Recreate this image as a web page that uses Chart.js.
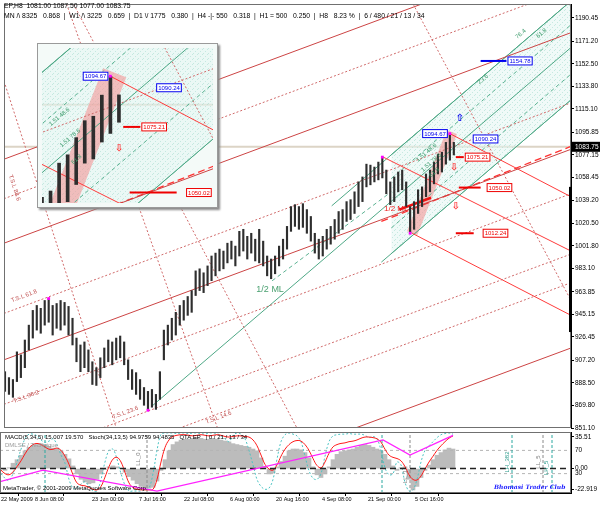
<!DOCTYPE html>
<html>
<head>
<meta charset="utf-8">
<title>EP,H8</title>
<script src="https://cdn.jsdelivr.net/npm/chart.js@4.4.1/dist/chart.umd.min.js"></script>
<style>
  html, body { margin: 0; padding: 0; background: #fff; }
  body { width: 600px; height: 510px; position: relative; overflow: hidden; font-family: "Liberation Sans", Arial, sans-serif; }
  .box { position: absolute; left: 0; width: 600px; }
  #priceBox { top: 0; height: 432px; }
  #oscBox { top: 432px; height: 78px; }
  #zoomBox { position: absolute; left: 37px; top: 43px; width: 179px; height: 163px; border: 1px solid #9a9a9a; box-shadow: 2px 2px 2px #8a8a8a; background: #f4faf8; }
  .txt { position: absolute; white-space: pre; font-size: 6.8px; color: #000; line-height: 1; }
</style>
</head>
<body>
<div class="box" id="priceBox"><canvas id="priceChart"></canvas></div>
<div class="box" id="oscBox"><canvas id="oscChart"></canvas></div>
<div id="zoomBox"><canvas id="insetChart"></canvas></div>

<div class="txt" style="left:4px;top:3px">EP,H8  1081.00 1087.50 1077.00 1083.75</div>
<div class="txt" style="left:4px;top:13px">MN /\ 8325   0.868  |  W1 /\ 3225   0.659  |  D1 \/ 1775   0.380  |  H4 -|- 550   0.318  |  H1 = 500   0.250  |  H8   8.23 %  |  6 / 480 / 21 / 13 / 34</div>
<div class="txt" style="left:5px;top:434px;font-size:6px">MACD(5,34,5) 15.007 19.570   Stoch(34,13,5) 94.9759 94.4835   QTA EP   | 0 / 21 / 13 / 34</div>
<div class="txt" style="left:5px;top:442px;font-size:6px;color:#9a9a9a">DMLSE / Technique</div>
<div class="txt" style="left:3px;top:485px;font-size:6px">MetaTrader, © 2001-2009 MetaQuotes Software Corp.</div>
<div class="txt" style="left:494px;top:484px;font-size:6px;color:#1a1aff;font-style:italic;font-weight:bold;font-family:'DejaVu Serif',serif">Bhomasi Trader Club</div>

<script>
// EP H8 bars, one entry per plotted bar
const highs = [
  897.7, 892.8, 891.2, 914.1, 911.6, 923.9, 936.2, 948.4, 952.5, 950.1,
  956.6, 958.2, 952.5, 954.1, 956.6, 955.0, 951.7, 941.9, 925.5, 919.8,
  922.3, 915.7, 905.9, 901.0, 909.2, 917.3, 923.9, 922.3, 925.5, 927.2,
  922.3, 907.5, 899.4, 896.9, 891.2, 884.6, 881.4, 883.0, 878.9, 897.7,
  932.1, 936.2, 941.9, 946.8, 952.5, 956.6, 959.9, 964.8, 981.1, 982.8,
  979.5, 985.2, 993.4, 995.8, 999.1, 997.5, 1004.0, 1005.7, 1001.6, 1013.8,
  1015.5, 1009.7, 1012.2, 1007.3, 1015.5, 1005.7, 993.4, 990.9, 993.4, 1001.6,
  1007.3, 1017.9, 1034.3, 1035.9, 1034.3, 1036.7, 1031.8, 1026.1, 1012.2, 1007.3,
  1009.7, 1015.5, 1017.9, 1023.6, 1030.2, 1031.8, 1038.4, 1040.0, 1046.5, 1054.7,
  1058.8, 1069.4, 1068.6, 1067.0, 1071.1, 1075.21, 1064.5, 1054.7, 1058.8, 1062.9,
  1064.5, 1054.7, 1034.3, 1038.4, 1048.2, 1050.6, 1061.3, 1064.5, 1071.1, 1077.6,
  1079.3, 1087.4, 1094.67, 1087.5
];
const lows = [
  881.4, 878.9, 876.5, 889.5, 892.8, 901.0, 915.7, 925.5, 932.1, 929.5,
  936.2, 938.6, 928.0, 933.6, 932.1, 936.2, 928.0, 919.8, 905.9, 897.7,
  901.0, 897.7, 887.1, 886.3, 892.8, 901.0, 905.9, 903.4, 907.5, 909.2,
  903.4, 891.2, 883.0, 878.9, 874.8, 869.9, 865.8, 868.3, 866.5, 874.8,
  907.5, 919.8, 923.9, 928.0, 936.2, 940.3, 944.3, 946.8, 960.7, 964.8,
  963.1, 968.9, 973.0, 977.0, 981.1, 982.8, 987.7, 990.9, 985.2, 993.4,
  997.5, 990.9, 995.8, 989.3, 987.7, 985.2, 977.0, 974.6, 978.7, 985.2,
  990.9, 999.1, 1013.8, 1017.9, 1015.5, 1017.1, 1012.2, 1005.7, 995.8, 990.9,
  993.4, 999.1, 1003.2, 1007.3, 1012.2, 1015.5, 1022.0, 1023.6, 1028.6, 1034.3,
  1038.4, 1050.6, 1052.3, 1054.7, 1056.4, 1058.0, 1044.9, 1035.9, 1038.4, 1046.5,
  1048.2, 1034.3, 1012.24, 1015.5, 1028.6, 1034.3, 1042.5, 1046.5, 1053.1, 1061.3,
  1062.9, 1069.4, 1072.7, 1077.0
];
const lastClose = 1083.75;

// oscillator window
const macd = [
  0, -2, 1, 6, 10, 15, 20, 24, 26, 27,
  28, 27, 25, 23, 22, 20, 16, 11, 3, -6,
  -12, -15, -17, -16, -12, -6, -1, 2, 3, 2,
  0, -4, -9, -13, -17, -20, -22, -22, -21, -14,
  -2, 10, 20, 27, 30, 32, 33, 33, 34, 35,
  34, 33, 33, 34, 33, 32, 31, 30, 28, 27,
  26, 25, 24, 22, 20, 12, 2, -6, -5, 2,
  8, 14, 20, 22, 22, 21, 18, 12, 2, -7,
  -10, -6, 2, 10, 16, 19, 20, 21, 22, 24,
  26, 27, 26, 24, 22, 20, 16, 10, 3, -2,
  1, 2, -12, -24, -20, -10, -2, 4, 10, 15,
  18, 21, 23, 22
];
const stochMain = [
  36, 30, 28, 33, 42, 52, 64, 74, 80, 82,
  80, 76, 72, 72, 74, 70, 60, 46, 28, 14,
  10, 9, 6, 3, 2, 8, 24, 42, 55, 58,
  50, 32, 14, 6, 3, 2, 2, 2, 3, 20,
  50, 75, 88, 94, 96, 97, 97, 96, 95, 96,
  97, 96, 95, 96, 97, 96, 94, 93, 94, 95,
  95, 94, 93, 88, 78, 62, 46, 38, 36, 45,
  60, 72, 80, 85, 87, 86, 80, 70, 56, 44,
  40, 50, 65, 76, 80, 82, 83, 85, 86, 88,
  91, 93, 93, 92, 90, 84, 72, 62, 58, 56,
  52, 42, 28, 20, 19, 26, 38, 50, 60, 70,
  78, 85, 91, 95
];
const stochSignal = [
  30, 22, 18, 30, 50, 72, 90, 98, 98, 95,
  88, 84, 86, 90, 80, 62, 48, 20, 5, 5,
  12, 16, 8, 0, 0, 20, 50, 70, 72, 55,
  30, 10, 0, 0, 0, 0, 2, 5, 30, 70,
  98, 100, 100, 100, 99, 100, 100, 99, 100, 100,
  99, 98, 100, 100, 99, 95, 90, 85, 96, 100,
  98, 90, 70, 45, 20, 8, 3, 5, 20, 55,
  85, 97, 100, 98, 95, 85, 60, 35, 22, 20,
  30, 60, 85, 95, 97, 98, 98, 99, 98, 98,
  98, 96, 92, 94, 90, 70, 40, 28, 30, 50,
  45, 15, 0, 2, 20, 50, 70, 78, 85, 92,
  97, 99, 100, 98
];
const oscTrendX = [-0.25, 10.5, 39, 95.5, 102.25, 113];
const oscTrendY = [16, 36, 0, 88, 62, 96];
const cyanEvents = [11, 95.25, 127.75, 137.75];
const grayEvents = [36.5, 102.25, 135.5];

// axes
const priceTicks = [1190.45, 1171.20, 1152.50, 1133.80, 1115.10, 1095.85, 1077.15, 1058.45, 1039.20,
  1020.50, 1001.80, 983.10, 963.85, 945.15, 926.45, 907.20, 888.50, 869.80, 851.10];
const dateTicks = [0, 8.5, 22.75, 34.5, 45.75, 57.25, 68.75, 80.25, 91.75, 103.5];
const dateLabels = ['22 May 2009', '8 Jun 08:00', '23 Jun 00:00', '7 Jul 16:00', '22 Jul 08:00',
  '6 Aug 00:00', '20 Aug 16:00', '4 Sep 08:00', '21 Sep 00:00', '5 Oct 16:00'];
const macdTicks = [35.51, 0, -22.919];
const macdTickText = ['35.51', '0.00', '-22.919'];
const stochLevels = [70, 30];

// swing points and levels
const swingBars = [11, 36, 95, 102, 112];
const swingSide = ['H', 'L', 'H', 'L', 'H'];
const levelValues = [1094.67, 1090.24, 1075.21, 1050.02, 1012.24, 1154.78];
const levelText = ['1094.67', '1090.24', '1075.21', '1050.02', '1012.24', '1154.78'];

// drawn objects, [bar, price] end points
const redSolid = [
  [[-0.25, 907.5], [142.5, 1081.7]],
  [[-0.25, 1073.5], [104.75, 1201.7]],
  [[87.25, 849.9], [142.5, 917.3]],
  [[-0.25, 1004.0], [142.5, 1178.2]]
];
const redDotted = [
  [[-0.25, 1040.8], [131.75, 1201.9]],
  [[-0.25, 945.9], [142.5, 1120.1]],
  [[-0.25, 870.7], [142.5, 1044.9]],
  [[24.75, 851.4], [142.5, 995.0]],
  [[44.75, 852.0], [142.5, 971.3]],
  [[15.5, 1201.9], [53.5, 851.1]],
  [[17.25, 1201.9], [73.5, 851.1]],
  [[-0.25, 1138.1], [28, 851.1]],
  [[102.75, 1201.9], [142.5, 956.6]]
];
const redFalling = [
  [[95.25, 1075.21], [142.5, 997.5]],
  [[102.5, 1012.24], [142.5, 944.3]],
  [[112, 1094.67], [142.5, 1042.4]]
];
const redTrend = [[94.75, 1022.0], [142.5, 1084.1]];
const redStub = [[99.25, 1031.8], [107.25, 1041.6]];
const greenSolid = [
  [[82.25, 1034.9], [142.5, 1204.4]],
  [[37.25, 869.9], [142.5, 1165.9]],
  [[94.75, 988.3], [142.5, 1122.6]]
];
const greenDashed = [
  [[97.25, 1057.4], [142.5, 1184.7]],
  [[97.25, 1016.6], [142.5, 1143.9]],
  [[67.25, 972.9], [97.25, 1046.5]]
];
const bandTop = [[97.25, 1077.2], [142.5, 1204.4]];
const bandBottom = [[97.25, 995.4], [142.5, 1122.6]];
const pinkZone = [[102.5, 1012.24], [112.5, 1096.0]];
const levelLines = [
  [[119.75, 1154.78], [126.25, 1154.78], '#0000ee'],
  [[114.25, 1050.02], [119.75, 1050.02], '#ee0000'],
  [[113.5, 1012.24], [118, 1012.24], '#ee0000'],
  [[113.5, 1075.21], [115.5, 1075.21], '#ee0000']
];
const scrollMark = [930.5, 1050.6];

Chart.defaults.font.family = '"Liberation Sans", Arial, sans-serif';

function hatch() {
  const c = document.createElement('canvas');
  c.width = 5; c.height = 5;
  const g = c.getContext('2d');
  g.fillStyle = 'rgba(228,246,242,0.55)';
  g.fillRect(0, 0, 5, 5);
  g.fillStyle = 'rgba(150,212,198,0.45)';
  g.fillRect(0, 4, 1, 1); g.fillRect(2, 2, 1, 1); g.fillRect(4, 0, 1, 1);
  return g.createPattern(c, 'repeat');
}
const hatchFill = hatch();

function pts(list) { return list.map(p => ({x: p[0], y: p[1]})); }
function seg(list, color, width, dash, order) {
  return {type: 'line', data: pts(list), borderColor: color, borderWidth: width, borderDash: dash || [],
    pointRadius: 0, fill: false, tension: 0, order: order || 5};
}

function priceSets(k) {
  const sets = [];
  sets.push({type: 'bar', data: highs.map((h, i) => ({x: i, y: [lows[i], h]})),
    backgroundColor: '#2e2e2e', barThickness: k > 1 ? 3 : 1.5, order: 1});
  sets.push({type: 'line', showLine: false, order: 0,
    data: swingBars.map((b, j) => ({x: b, y: swingSide[j] === 'H' ? highs[b] : lows[b]})),
    pointRadius: 2, pointStyle: 'rect', backgroundColor: '#ff00ff', borderWidth: 0});
  sets.push({type: 'line', data: pts(bandTop), borderColor: '#5aae8e', borderWidth: 1, pointRadius: 0,
    fill: '+1', backgroundColor: hatchFill, order: 20});
  sets.push({type: 'line', data: pts(bandBottom), borderColor: '#5aae8e', borderWidth: 1, pointRadius: 0,
    fill: false, order: 21});
  sets.push(seg([[-0.25, lastClose], [142.5, lastClose]], '#dcd4c6', 2, [], 30));
  sets.push(seg(pinkZone, 'rgba(243,150,150,0.6)', 11 * k, [], 15));
  redSolid.forEach(s => sets.push(seg(s, '#cc4444', 1)));
  redDotted.forEach(s => sets.push(seg(s, '#d06a6a', 1, [2, 2])));
  redFalling.forEach(s => sets.push(seg(s, '#ff3b3b', 1)));
  sets.push(seg(redTrend, '#ff3030', 1.3, [7, 4]));
  sets.push(seg(redStub, '#ee1111', 2.5, [], 4));
  greenSolid.forEach(s => sets.push(seg(s, '#4ea886', 1)));
  greenDashed.forEach(s => sets.push(seg(s, '#5cb292', 1, [4, 3])));
  levelLines.forEach(s => sets.push(seg([s[0], s[1]], s[2], 2, [], 3)));
  return sets;
}

const priceNotes = [];
const levelAnchor = [112, 117, 115.5, 120.5, 119.75, 126.25];
const levelShift = [-4, 5, 3, 5, 4, 3];
const levelColor = ['#0000ee', '#0000ee', '#ee0000', '#ee0000', '#ee0000', '#0000ee'];
levelValues.forEach((v, i) => priceNotes.push({x: levelAnchor[i], y: v, text: levelText[i], color: levelColor[i],
  box: levelColor[i], dx: levelShift[i], align: i === 0 ? 'right' : 'left'}));
const arrowFont = 'bold 10px "DejaVu Sans"';
priceNotes.push(
  {x: 114.5, y: 1107.9, text: '\u21E7', color: '#0000ee', font: arrowFont, align: 'center'},
  {x: 113, y: 1067.0, text: '\u21E9', color: '#ff3030', font: arrowFont, align: 'center'},
  {x: 113.5, y: 1035.0, text: '\u21E9', color: '#ff3030', font: arrowFont, align: 'center'},
  {x: 66.75, y: 966.4, text: '1/2 ML', color: '#4aa070', font: '9px "Liberation Sans"', align: 'center'},
  {x: 98.5, y: 1032.6, text: '1/2 ML', color: '#ee2020', font: '8px "Liberation Sans"', align: 'center'},
  {x: 4.75, y: 960.7, text: 'T.S.L 61.8', color: '#c05050', rot: -20.5, align: 'center'},
  {x: 5.25, y: 877.3, text: 'T.S.L 38.2', color: '#c05050', rot: -20.5, align: 'center'},
  {x: 30.25, y: 864.2, text: 'T.S.L 23.6', color: '#c05050', rot: -20.5, align: 'center'},
  {x: 53.75, y: 860.1, text: 'T.S.L 14.6', color: '#c05050', rot: -20.5, align: 'center'},
  {x: 2.5, y: 1050.0, text: 'T.S.L 88.6', color: '#c05050', rot: 72, align: 'center'},
  {x: 106, y: 1079.2, text: '1.51 48.6', color: '#3a9a6a', rot: -40.7, align: 'center'},
  {x: 107.25, y: 1071.1, text: '1.51 78.6', color: '#3a9a6a', rot: -40.7, align: 'center'},
  {x: 108, y: 1062.9, text: '61.8', color: '#3a9a6a', rot: -40.7, align: 'center'},
  {x: 120.25, y: 1140.0, text: '23.6', color: '#3a9a6a', rot: -40.7, align: 'center'},
  {x: 129.75, y: 1177.4, text: '76.4', color: '#3a9a6a', rot: -40.7, align: 'center'},
  {x: 135, y: 1178.0, text: '61.8', color: '#3a9a6a', rot: -40.7, align: 'center'}
);

const oscNotes = [
  {x: 34.25, y: 55, text: 'LL_0', color: '#808080', rot: -90, align: 'center', axis: 'ys'},
  {x: 101, y: 25, text: 'LL_1', color: '#808080', rot: -90, align: 'center', axis: 'ys'},
  {x: 126.5, y: 50, text: 'LH_382', color: '#2a9a8a', rot: -90, align: 'center', axis: 'ys'},
  {x: 134.25, y: 50, text: 'LL_5', color: '#808080', rot: -90, align: 'center', axis: 'ys'},
  {x: 136.25, y: 40, text: 'LH_5', color: '#2a9a8a', rot: -90, align: 'center', axis: 'ys'}
];

function marksPlugin(items) {
  return {
    id: 'marks',
    afterDatasetsDraw(chart) {
      const ctx = chart.ctx, a = chart.chartArea;
      ctx.save();
      ctx.beginPath();
      ctx.rect(a.left, a.top, a.right - a.left, a.bottom - a.top);
      ctx.clip();
      items.forEach(m => {
        const ys = chart.scales[m.axis || 'y'];
        const px = chart.scales.x.getPixelForValue(m.x) + (m.dx || 0);
        const py = ys.getPixelForValue(m.y);
        ctx.save();
        ctx.translate(px, py);
        if (m.rot) ctx.rotate(m.rot * Math.PI / 180);
        ctx.font = m.font || '6px "Liberation Sans"';
        ctx.textBaseline = 'middle';
        ctx.textAlign = m.align || 'left';
        const w = ctx.measureText(m.text).width;
        if (m.box) {
          const bx = m.align === 'right' ? -w - 2 : -2;
          ctx.fillStyle = '#fff';
          ctx.fillRect(bx, -4.5, w + 4, 9);
          ctx.strokeStyle = m.box;
          ctx.lineWidth = 1;
          ctx.strokeRect(bx + 0.5, -4, w + 3, 8);
        }
        ctx.fillStyle = m.color;
        ctx.fillText(m.text, 0, 0.5);
        ctx.restore();
      });
      ctx.restore();
    }
  };
}

const framePlugin = {
  id: 'frame',
  afterDraw(chart) {
    const {ctx, chartArea: a} = chart;
    ctx.save();
    ctx.strokeStyle = '#707070';
    ctx.lineWidth = 1;
    ctx.strokeRect(a.left + 0.5, a.top + 0.5, a.right - a.left - 1, a.bottom - a.top - 1);
    ctx.restore();
  }
};

const pricePlugin = {
  id: 'lastPrice',
  afterDraw(chart) {
    const {ctx, chartArea: a} = chart;
    const ys = chart.scales.y;
    ctx.save();
    ctx.fillStyle = '#000';
    ctx.fillRect(a.right - 2, ys.getPixelForValue(scrollMark[1]), 3, ys.getPixelForValue(scrollMark[0]) - ys.getPixelForValue(scrollMark[1]));
    const y = ys.getPixelForValue(lastClose);
    ctx.fillRect(a.right + 1, y - 5, 29, 10);
    ctx.fillStyle = '#fff';
    ctx.font = '6.5px "Liberation Sans"';
    ctx.textBaseline = 'middle';
    ctx.fillText(lastClose.toFixed(2), a.right + 4, y + 0.5);
    ctx.restore();
  }
};

const oscPlugin = {
  id: 'stochLevels',
  afterDraw(chart) {
    const {ctx, chartArea: a} = chart;
    ctx.save();
    ctx.fillStyle = '#000';
    ctx.font = '6.5px "Liberation Sans"';
    ctx.textBaseline = 'middle';
    stochLevels.forEach(v => ctx.fillText(String(v), a.right + 4, chart.scales.ys.getPixelForValue(v)));
    ctx.restore();
  }
};

const quiet = {legend: {display: false}, tooltip: {enabled: false}};

new Chart(document.getElementById('priceChart'), {
  type: 'bar',
  data: {datasets: priceSets(1)},
  options: {
    responsive: true, maintainAspectRatio: false, animation: false, events: [],
    layout: {padding: {left: 0, right: 0, top: 0, bottom: 3}},
    plugins: quiet,
    scales: {
      x: {type: 'linear', display: false, min: -0.25, max: 142.5, offset: false},
      y: {
        position: 'right', min: 851.1, max: 1201.9,
        afterBuildTicks: s => { s.ticks = priceTicks.map(v => ({value: v})); },
        afterFit: s => { s.width = 29; s.paddingTop = 0; s.paddingBottom = 0; },
        ticks: {autoSkip: false, font: {size: 6.5}, color: '#000', padding: 1, callback: v => Number(v).toFixed(2)},
        grid: {drawOnChartArea: false, tickLength: 3, color: '#000'},
        border: {color: '#000'}
      }
    }
  },
  plugins: [marksPlugin(priceNotes), framePlugin, pricePlugin]
});

new Chart(document.getElementById('insetChart'), {
  type: 'bar',
  data: {datasets: priceSets(2.27)},
  options: {
    responsive: true, maintainAspectRatio: false, animation: false, events: [],
    layout: {padding: 0},
    plugins: quiet,
    scales: {
      x: {type: 'linear', display: false, min: 104, max: 124, offset: false},
      y: {display: false, min: 1046, max: 1105.5}
    }
  },
  plugins: [marksPlugin(priceNotes)]
});

const oscSets = [
  seg([[-0.25, 0], [142.5, 0]], '#222', 1.5, [6, 4], 2),
  {type: 'bar', data: macd.map((v, i) => ({x: i, y: v})), backgroundColor: '#bcbcbc', barThickness: 4, order: 9},
  {type: 'line', yAxisID: 'ys', data: stochSignal.map((v, i) => ({x: i, y: v})), borderColor: '#4cc4c4',
    borderWidth: 1, borderDash: [2, 2], pointRadius: 0, tension: 0.35, order: 4},
  {type: 'line', yAxisID: 'ys', data: stochMain.map((v, i) => ({x: i, y: v})), borderColor: '#ff1a1a',
    borderWidth: 1, pointRadius: 0, tension: 0.4, order: 3},
  {type: 'line', yAxisID: 'ys', data: oscTrendX.map((x, i) => ({x: x, y: oscTrendY[i]})), borderColor: '#ff22ff',
    borderWidth: 1.3, pointRadius: 0, tension: 0, order: 1}
];
stochLevels.forEach(v => oscSets.push(Object.assign(seg([[-0.25, v], [142.5, v]], '#b4b4b4', 1, [3, 3], 8), {yAxisID: 'ys'})));
cyanEvents.forEach(x => oscSets.push(Object.assign(seg([[x, -3.4], [x, 101.7]], '#2aa8a0', 1, [3, 2], 6), {yAxisID: 'ys'})));
grayEvents.forEach(x => oscSets.push(Object.assign(seg([[x, -3.4], [x, 101.7]], '#8a8a8a', 1, [3, 2], 6), {yAxisID: 'ys'})));

new Chart(document.getElementById('oscChart'), {
  type: 'bar',
  data: {datasets: oscSets},
  options: {
    responsive: true, maintainAspectRatio: false, animation: false, events: [],
    layout: {padding: 0},
    plugins: quiet,
    scales: {
      x: {
        type: 'linear', min: -0.25, max: 142.5, offset: false, position: 'bottom',
        afterBuildTicks: s => { s.ticks = dateTicks.map(v => ({value: v})); },
        afterFit: s => { s.height = 17; s.paddingLeft = 0; s.paddingRight = 0; },
        ticks: {autoSkip: false, maxRotation: 0, align: 'start', font: {size: 5.5}, color: '#000', padding: 0,
          callback: (v, i) => dateLabels[i]},
        grid: {drawOnChartArea: false, tickLength: 3, color: '#000'},
        border: {color: '#000'}
      },
      y: {
        position: 'right', min: -27.4, max: 41.1,
        afterBuildTicks: s => { s.ticks = macdTicks.map(v => ({value: v})); },
        afterFit: s => { s.width = 29; s.paddingTop = 0; s.paddingBottom = 0; },
        ticks: {autoSkip: false, font: {size: 6.5}, color: '#000', padding: 1, callback: (v, i) => macdTickText[i]},
        grid: {drawOnChartArea: false, tickLength: 3, color: '#000'},
        border: {color: '#000'}
      },
      ys: {display: false, min: -3.4, max: 101.7}
    }
  },
  plugins: [marksPlugin(oscNotes), framePlugin, oscPlugin]
});
</script>
</body>
</html>
